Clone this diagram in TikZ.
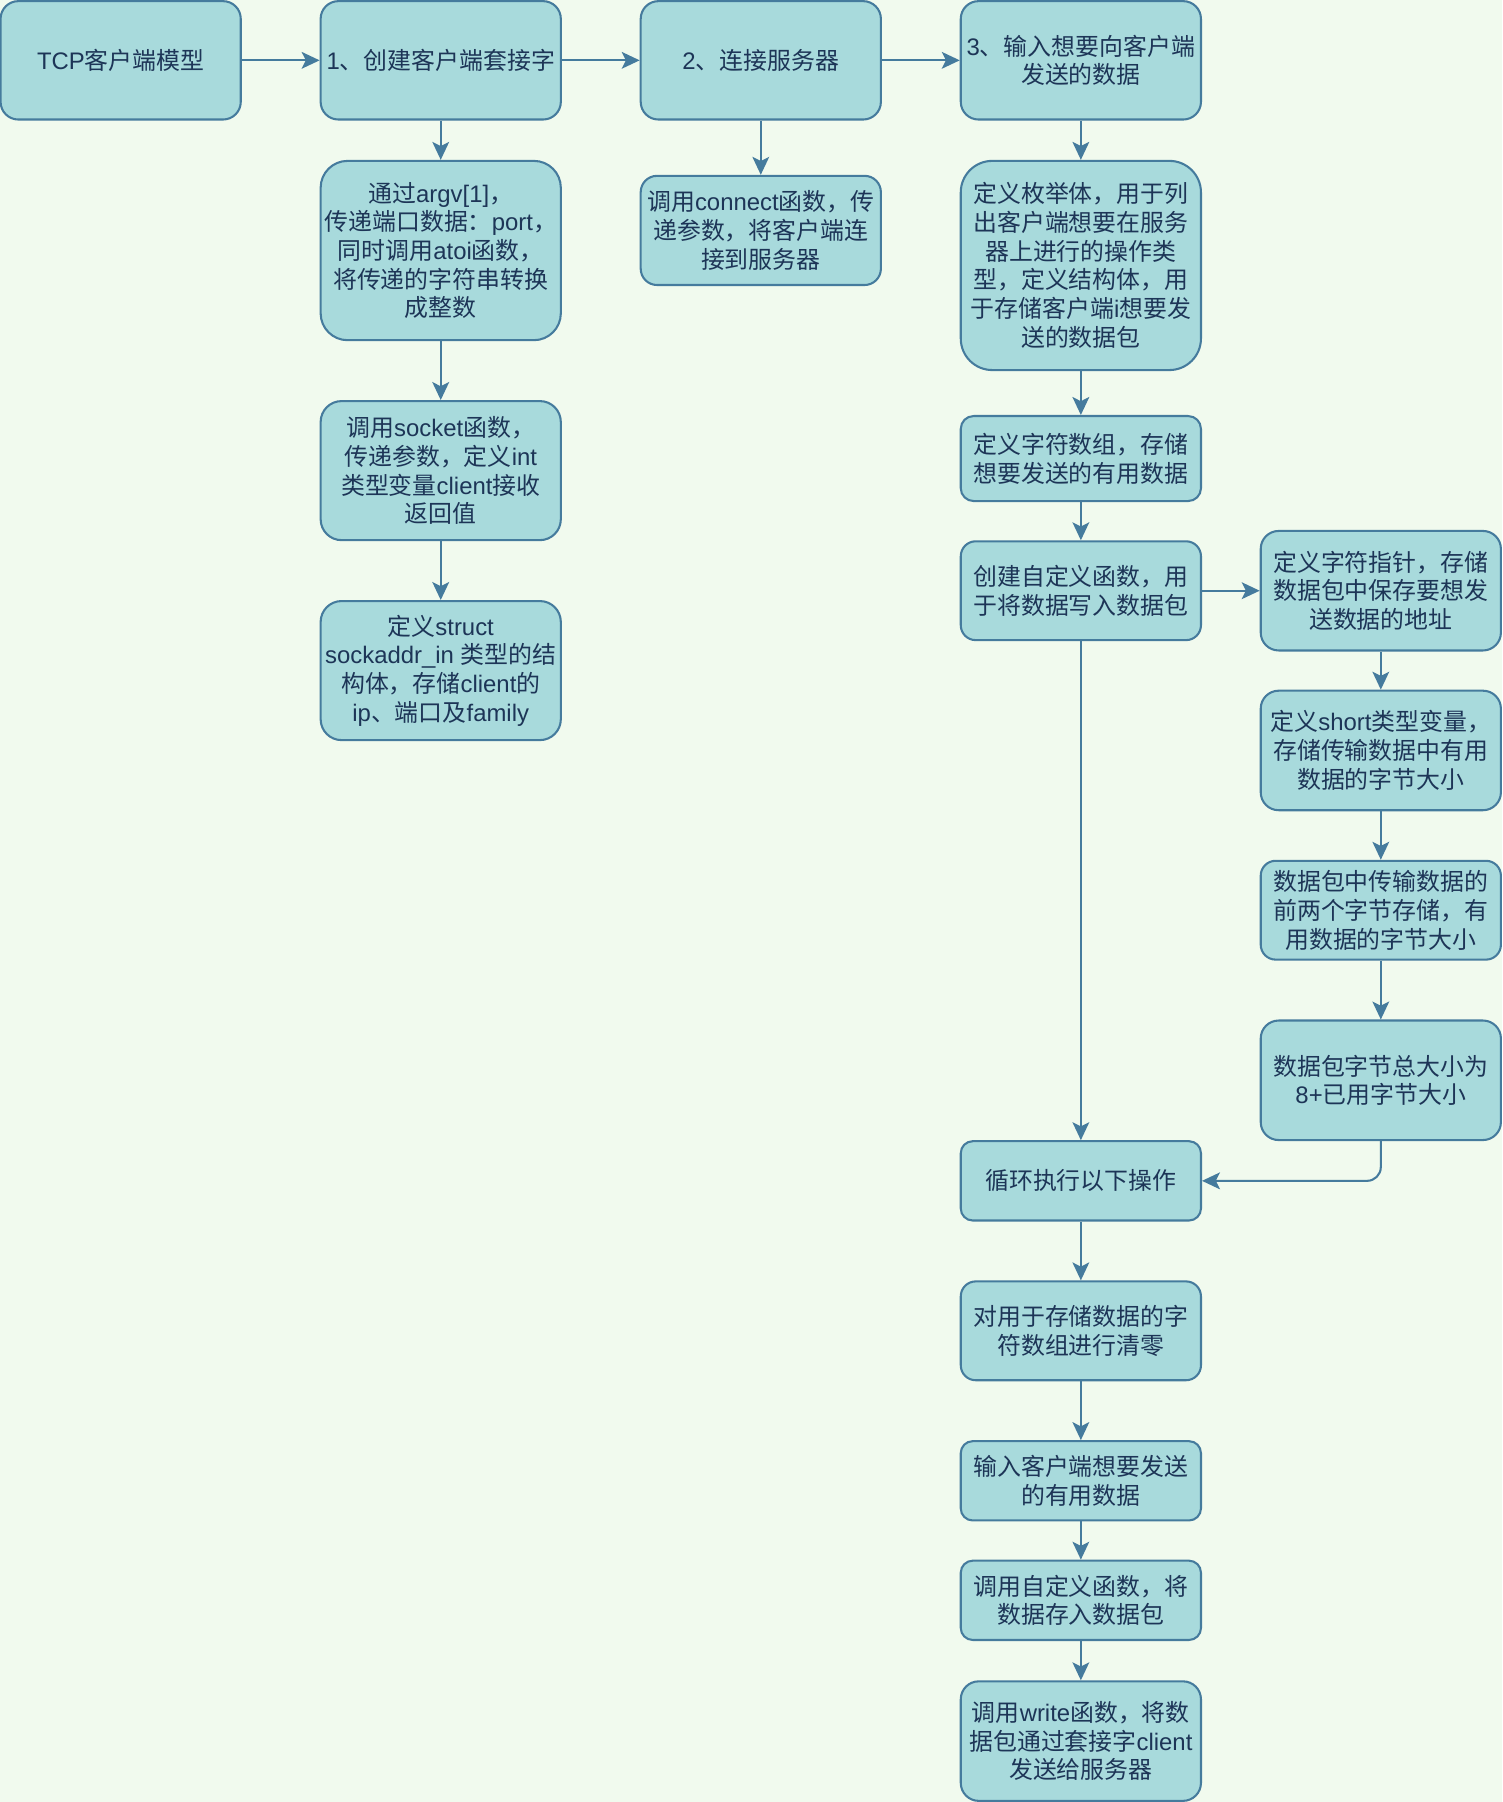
\documentclass[tikz,border=0pt]{standalone}
\usepackage{fontspec}
\setmainfont{Noto Sans CJK SC}
\newfontfamily\latfont{Liberation Sans}
\usetikzlibrary{arrows.meta}
\definecolor{bgc}{HTML}{F1FAEE}
\definecolor{boxfill}{HTML}{A8DADC}
\definecolor{boxline}{HTML}{457B9D}
\definecolor{txt}{HTML}{1D3557}
\newcommand\latn[1]{{\latfont #1}}
\begin{document}
\begin{tikzpicture}[x=0.5pt,y=-0.5pt,
  box/.style={draw=boxline, fill=boxfill, line width=0.9pt, text=txt, align=center,
    minimum width=104.5pt, inner xsep=1pt, inner ysep=0pt,
    font=\fontsize{10.4pt}{12.5pt}\selectfont},
  flow/.style={draw=boxline, line width=0.9pt,
    -{Stealth[length=7.8pt,width=7.3pt,inset=1.8pt]}}]
\fill[bgc] (0,0) rectangle (1307,1568);
\useasboundingbox (0,0) rectangle (1307,1568);

% top row
\node[box, minimum height=51.5pt, rounded corners=7.7pt] (tcp) at (105,52.5) {\latn{TCP}客户端模型};
\node[box, minimum height=51.5pt, rounded corners=7.7pt] (b1) at (383.5,52.5) {\latn{1}、创建客户端套接字};
\node[box, minimum height=51.5pt, rounded corners=7.7pt] (b2) at (662,52.5) {\latn{2}、连接服务器};
\node[box, minimum height=51.5pt, rounded corners=7.7pt] (b3) at (940.5,52.5) {\latn{3}、输入想要向客户端\\发送的数据};

% column 1
\node[box, minimum height=78pt, rounded corners=11.7pt] (a1) at (383.5,218) {通过\latn{argv[1]}，\\传递端口数据：\latn{port}，\\同时调用\latn{atoi}函数，\\将传递的字符串转换\\成整数};
\node[box, minimum height=60.5pt, rounded corners=9.1pt] (a2) at (383.5,409.5) {调用\latn{socket}函数，\\传递参数，定义\latn{int}\\类型变量\latn{client}接收\\返回值};
\node[box, minimum height=60.5pt, rounded corners=9.1pt] (a3) at (383.5,583.5) {定义\latn{struct}\\\latn{sockaddr\_in }类型的结\\构体，存储\latn{client}的\\\latn{ip}、端口及\latn{family}};

% column 2
\node[box, minimum height=47.5pt, rounded corners=7.1pt] (c1) at (662,200.5) {调用\latn{connect}函数，传\\递参数，将客户端连\\接到服务器};

% column 3
\node[box, minimum height=91pt, rounded corners=13.7pt] (d1) at (940.5,231) {定义枚举体，用于列\\出客户端想要在服务\\器上进行的操作类\\型，定义结构体，用\\于存储客户端\latn{i}想要发\\送的数据包};
\node[box, minimum height=37pt, rounded corners=5.6pt] (d2) at (940.5,399) {定义字符数组，存储\\想要发送的有用数据};
\node[box, minimum height=43pt, rounded corners=6.5pt] (d3) at (940.5,514) {创建自定义函数，用\\于将数据写入数据包};
\node[box, minimum height=34.5pt, rounded corners=5.2pt] (d4) at (940.5,1027.5) {循环执行以下操作};
\node[box, minimum height=43pt, rounded corners=6.5pt] (d5) at (940.5,1158) {对用于存储数据的字\\符数组进行清零};
\node[box, minimum height=34.5pt, rounded corners=5.2pt] (d6) at (940.5,1288.5) {输入客户端想要发送\\的有用数据};
\node[box, minimum height=34.5pt, rounded corners=5.2pt] (d7) at (940.5,1392.5) {调用自定义函数，将\\数据存入数据包};
\node[box, minimum height=52pt, rounded corners=7.8pt] (d8) at (940.5,1515) {调用\latn{write}函数，将数\\据包通过套接字\latn{client}\\发送给服务器};

% column 4
\node[box, minimum height=52pt, rounded corners=7.8pt] (e1) at (1201.5,514) {定义字符指针，存储\\数据包中保存要想发\\送数据的地址};
\node[box, minimum height=52pt, rounded corners=7.8pt] (e2) at (1201.5,653) {定义\latn{short}类型变量，\\存储传输数据中有用\\数据的字节大小};
\node[box, minimum height=43pt, rounded corners=6.5pt] (e3) at (1201.5,792) {数据包中传输数据的\\前两个字节存储，有\\用数据的字节大小};
\node[box, minimum height=52pt, rounded corners=7.8pt] (e4) at (1201.5,940) {数据包字节总大小为\\\latn{8+}已用字节大小};

% connectors
\draw[flow] (tcp) -- (b1);
\draw[flow] (b1) -- (b2);
\draw[flow] (b2) -- (b3);
\draw[flow] (b1) -- (a1);
\draw[flow] (a1) -- (a2);
\draw[flow] (a2) -- (a3);
\draw[flow] (b2) -- (c1);
\draw[flow] (b3) -- (d1);
\draw[flow] (d1) -- (d2);
\draw[flow] (d2) -- (d3);
\draw[flow] (d3) -- (e1);
\draw[flow] (e1) -- (e2);
\draw[flow] (e2) -- (e3);
\draw[flow] (e3) -- (e4);
\draw[flow] (d3) -- (d4);
\draw[flow, rounded corners=6pt] (e4.south) |- (d4.east);
\draw[flow] (d4) -- (d5);
\draw[flow] (d5) -- (d6);
\draw[flow] (d6) -- (d7);
\draw[flow] (d7) -- (d8);
\end{tikzpicture}
\end{document}
